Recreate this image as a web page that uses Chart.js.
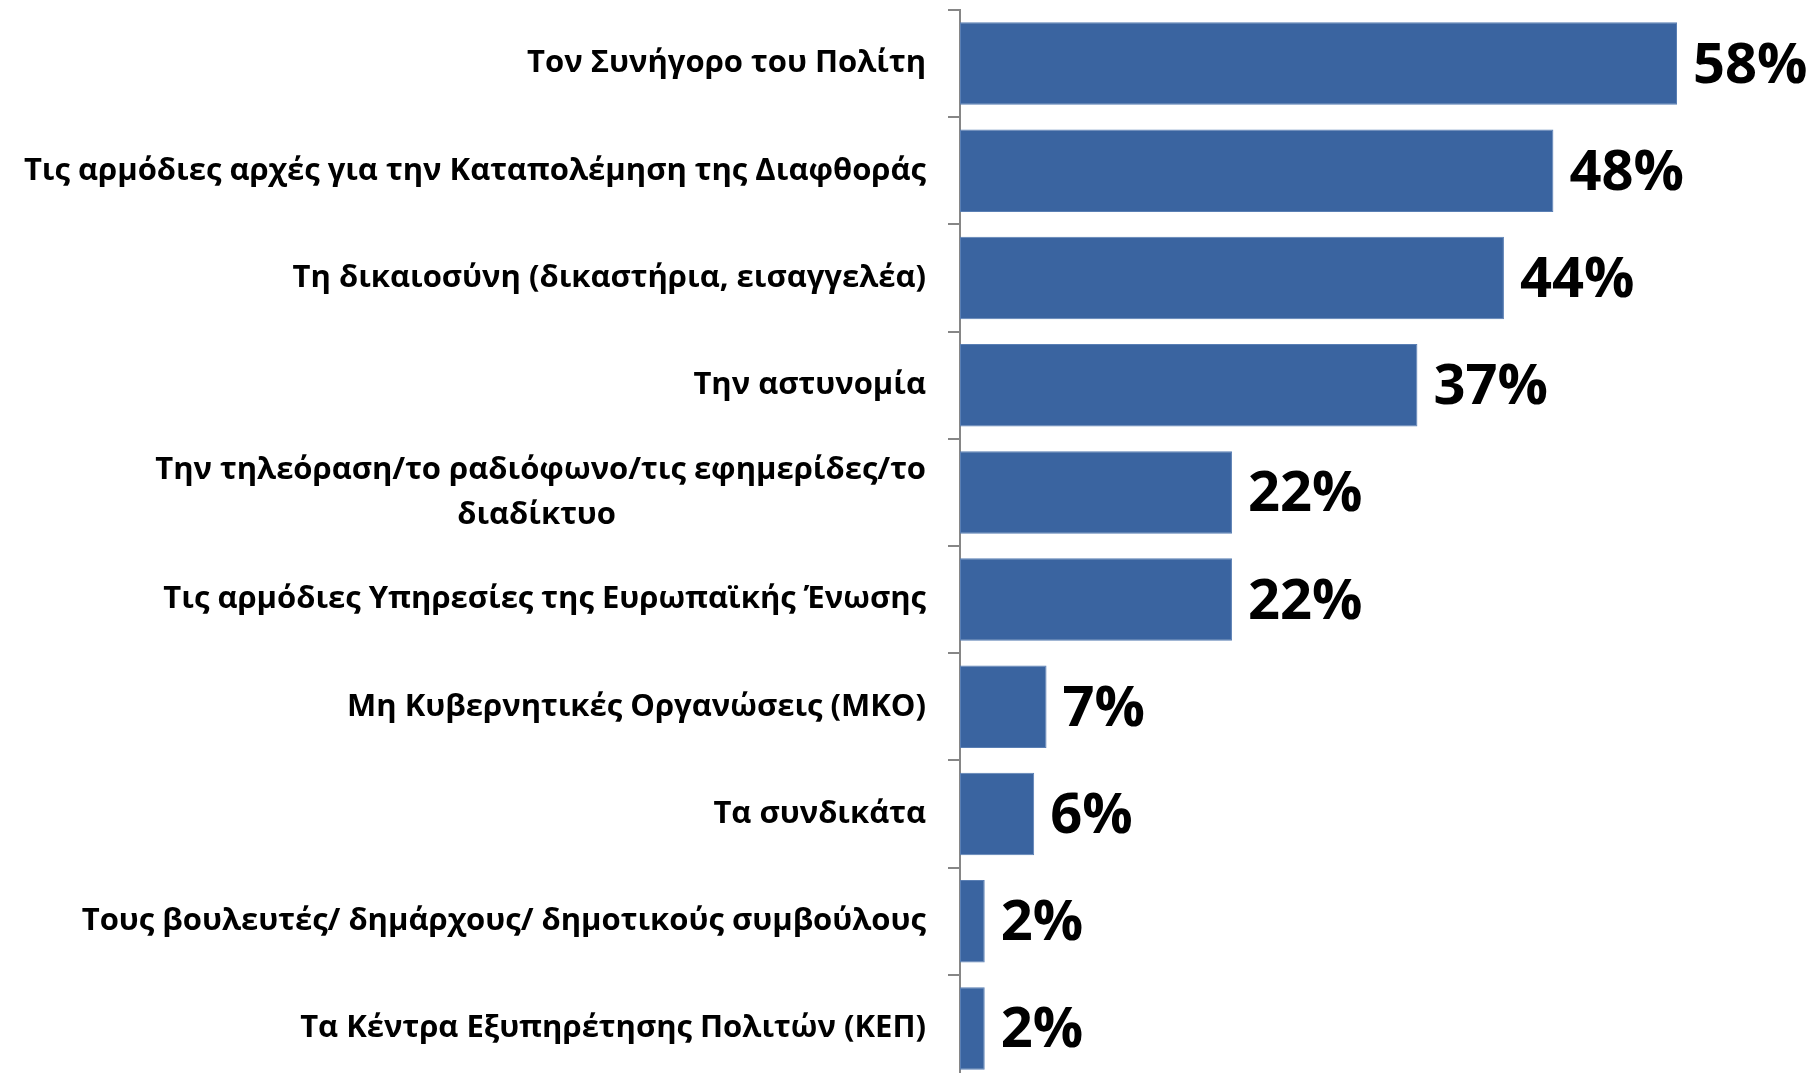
<!DOCTYPE html>
<html>
<head>
<meta charset="utf-8">
<script src="https://cdn.jsdelivr.net/npm/chart.js@4.4.1/dist/chart.umd.min.js"></script>
<style>
  html, body { margin: 0; padding: 0; background: #fff; overflow: hidden; }
  #chart { display: block; }
</style>
</head>
<body>
<canvas id="chart" width="1813" height="1084"></canvas>
<script>
// chart data
const categories = [
    'Τον Συνήγορο του Πολίτη',
    'Τις αρμόδιες αρχές για την Καταπολέμηση της Διαφθοράς',
    'Τη δικαιοσύνη (δικαστήρια, εισαγγελέα)',
    'Την αστυνομία',
    ['Την τηλεόραση/το ραδιόφωνο/τις εφημερίδες/το', 'διαδίκτυο'],
    'Τις αρμόδιες Υπηρεσίες της Ευρωπαϊκής Ένωσης',
    'Μη Κυβερνητικές Οργανώσεις (ΜΚΟ)',
    'Τα συνδικάτα',
    'Τους βουλευτές/ δημάρχους/ δημοτικούς συμβούλους',
    'Τα Κέντρα Εξυπηρέτησης Πολιτών (ΚΕΠ)'
];
const values = [58, 48, 44, 37, 22, 22, 7, 6, 2, 2];

const labelFont = { family: 'Open Sans', weight: 'bold', size: 31, lineHeight: 1.45 };

// centre the short second line under the first one (ticks are right aligned)
const measure = document.createElement('canvas').getContext('2d');
measure.font = 'bold 31px "Open Sans"';
const labels = categories.map(c => {
    if (!Array.isArray(c)) return c;
    const target = (measure.measureText(c[0]).width + measure.measureText(c[1]).width) / 2;
    let second = c[1];
    while (measure.measureText(second).width < target) {
        second += '\u2002';
    }
    return [c[0], second];
});

// 📊 VALUE LABELS
const valueLabels = {
    id: 'valueLabels',
    afterDatasetsDraw(chart) {
        const ctx = chart.ctx;
        const meta = chart.getDatasetMeta(0);
        ctx.save();
        ctx.font = 'bold 56px "Open Sans"';
        ctx.fillStyle = '#000';
        ctx.textAlign = 'left';
        ctx.textBaseline = 'middle';
        meta.data.forEach((bar, i) => {
            ctx.fillText(values[i] + '%', bar.x + 16, bar.y + 3);
        });
        ctx.restore();
    }
};

new Chart(document.getElementById('chart'), {
    type: 'bar',
    data: {
        labels: labels,
        datasets: [{
            data: values,
            backgroundColor: '#3a64a0',
            borderColor: '#5a7fb4',
            borderWidth: 1,
            borderSkipped: false,
            barPercentage: 0.77,
            categoryPercentage: 1
        }]
    },
    options: {
        indexAxis: 'y',
        responsive: false,
        devicePixelRatio: 1,
        animation: false,
        layout: { padding: { top: 10, bottom: 2, left: 0, right: 0 } },
        plugins: {
            legend: { display: false },
            tooltip: { enabled: false }
        },
        scales: {
            x: { display: false, min: 0, max: 69 },
            y: {
                afterFit(scale) {
                    scale.width = 960;
                    scale.paddingTop = 0;
                    scale.paddingBottom = 0;
                },
                grid: {
                    offset: true,
                    drawOnChartArea: false,
                    drawTicks: true,
                    tickLength: 12,
                    color: '#868686',
                    lineWidth: 2
                },
                border: { display: true, color: '#868686', width: 2 },
                ticks: {
                    color: '#000',
                    font: labelFont,
                    padding: 22,
                    autoSkip: false
                }
            }
        }
    },
    plugins: [valueLabels]
});
</script>
</body>
</html>
